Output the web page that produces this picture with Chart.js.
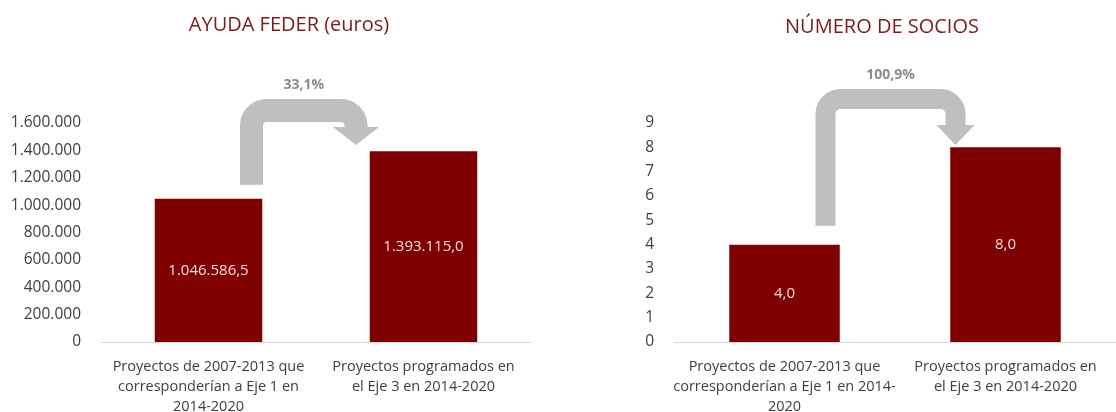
<!DOCTYPE html>
<html>
<head>
<meta charset="utf-8">
<script src="https://cdn.jsdelivr.net/npm/chart.js@4.4.1/dist/chart.umd.min.js"></script>
<style>
    body { margin: 0; background: #fff; }
    .fila { display: flex; width: 1116px; height: 412px; }
    .caja { position: relative; width: 558px; height: 412px; }
</style>
</head>
<body>
<div class="fila">
    <div class="caja"><canvas id="ayudaChart"></canvas></div>
    <div class="caja"><canvas id="sociosChart"></canvas></div>
</div>
<script>
// Datos
const categoriasAyuda = [
    ['Proyectos de 2007-2013 que', 'corresponderían a Eje 1 en', '2014-2020'],
    ['Proyectos programados en', 'el Eje 3 en 2014-2020']
];
const categoriasSocios = [
    ['Proyectos de 2007-2013 que', 'corresponderían a Eje 1 en 2014-', '2020'],
    ['Proyectos programados en', 'el Eje 3 en 2014-2020']
];
const ayudaFeder = [1046586.5, 1393115.0];
const numeroSocios = [4, 8];
const ticksAyuda = [0, 200000, 400000, 600000, 800000, 1000000, 1200000, 1400000, 1600000];
const ticksSocios = [0, 1, 2, 3, 4, 5, 6, 7, 8, 9];
const variacionAyuda = '33,1%';
const variacionSocios = '100,9%';

Chart.defaults.font.family = '"Open Sans", sans-serif';

// formato español: 1.046.586,5
function formato(valor, decimales) {
    const partes = valor.toFixed(decimales).split('.');
    const entero = partes[0].replace(/\B(?=(\d{3})+(?!\d))/g, '.');
    return partes[1] ? entero + ',' + partes[1] : entero;
}

// Título, etiquetas de barras y flecha de variación
const flechaPlugin = {
    id: 'flecha',
    afterDatasetsDraw(chart, args, opts) {
        const ctx = chart.ctx;
        const barras = chart.getDatasetMeta(0).data;
        const valores = chart.data.datasets[0].data;
        const top = chart.chartArea.top;

        ctx.save();
        // etiquetas dentro de las barras
        ctx.font = '15px "Open Sans"';
        ctx.fillStyle = '#f2dcdb';
        ctx.textAlign = 'center';
        ctx.textBaseline = 'middle';
        barras.forEach((b, i) => {
            ctx.fillText(formato(valores[i], 1), b.x, (b.y + b.base) / 2);
        });

        // flecha
        const t = opts.grosor;
        const x0 = barras[0].x + opts.dxInicio;
        const x1 = barras[1].x + opts.dxFin;
        const yIni = barras[0].y - opts.separacion;
        const yc = top - opts.alturaArco;
        const yBaseCabeza = top + opts.baseCabeza;
        const yPunta = top + opts.punta;
        ctx.strokeStyle = '#bfbfbf';
        ctx.fillStyle = '#bfbfbf';
        ctx.lineWidth = t;
        ctx.lineCap = 'butt';
        ctx.beginPath();
        ctx.moveTo(x0, yIni);
        ctx.arcTo(x0, yc, x1, yc, opts.radio);
        ctx.arcTo(x1, yc, x1, yBaseCabeza, opts.radio);
        ctx.lineTo(x1, yBaseCabeza + 0.5);
        ctx.stroke();
        ctx.beginPath();
        ctx.moveTo(x1 - opts.anchoCabeza, yBaseCabeza);
        ctx.lineTo(x1 + opts.anchoCabeza, yBaseCabeza);
        ctx.lineTo(x1, yPunta);
        ctx.closePath();
        ctx.fill();

        // porcentaje
        ctx.font = 'bold 14px "Open Sans"';
        ctx.fillStyle = '#8c8c8c';
        ctx.fillText(opts.variacion, (x0 + x1) / 2, yc - t / 2 - 14);

        // título
        ctx.font = '20px "Open Sans"';
        ctx.fillStyle = '#7b1c1c';
        ctx.fillText(opts.titulo, opts.tituloX, opts.tituloY);
        ctx.restore();
    }
};

function crearGrafico(id, etiquetas, datos, ticks, anchoEje, padDerecha, flecha) {
    const ctx = document.getElementById(id).getContext('2d');
    return new Chart(ctx, {
        type: 'bar',
        data: {
            labels: etiquetas,
            datasets: [{
                data: datos,
                backgroundColor: '#7f0000',
                barPercentage: 0.5,
                categoryPercentage: 1.0
            }]
        },
        options: {
            responsive: true,
            maintainAspectRatio: false,
            animation: false,
            layout: {
                padding: { top: 123, right: padDerecha, left: 0, bottom: 0 }
            },
            scales: {
                x: {
                    grid: { display: false },
                    border: { display: true, color: '#d9d9d9', width: 1 },
                    ticks: {
                        color: '#404040',
                        font: { size: 14.5, lineHeight: 1.38 },
                        padding: 7,
                        maxRotation: 0,
                        autoSkip: false
                    },
                    afterFit(scale) { scale.height = 70; }
                },
                y: {
                    min: ticks[0],
                    max: ticks[ticks.length - 1],
                    grid: { display: false },
                    border: { display: false },
                    afterBuildTicks(scale) {
                        scale.ticks = ticks.map(v => ({ value: v }));
                    },
                    ticks: {
                        color: '#404040',
                        font: { size: 15.5 },
                        padding: 12,
                        callback: v => formato(v, 0)
                    },
                    afterFit(scale) { scale.width = anchoEje; }
                }
            },
            plugins: {
                legend: { display: false },
                tooltip: { enabled: false },
                flecha: flecha
            }
        },
        plugins: [flechaPlugin]
    });
}

document.addEventListener('DOMContentLoaded', () => {
    crearGrafico('ayudaChart', categoriasAyuda, ayudaFeder, ticksAyuda, 101, 27, {
        titulo: 'AYUDA FEDER (euros)', tituloX: 289, tituloY: 25,
        variacion: variacionAyuda,
        grosor: 23, radio: 15, dxInicio: 43, dxFin: -67.5, separacion: 14,
        alturaArco: 12.5, baseCabeza: 4, punta: 22, anchoCabeza: 23
    });
    crearGrafico('sociosChart', categoriasSocios, numeroSocios, ticksSocios, 116, 0, {
        titulo: 'NÚMERO DE SOCIOS', tituloX: 324, tituloY: 27,
        variacion: variacionSocios,
        grosor: 20, radio: 15, dxInicio: 41, dxFin: -50, separacion: 19,
        alturaArco: 24, baseCabeza: 2, punta: 22, anchoCabeza: 19
    });
});
</script>
</body>
</html>
